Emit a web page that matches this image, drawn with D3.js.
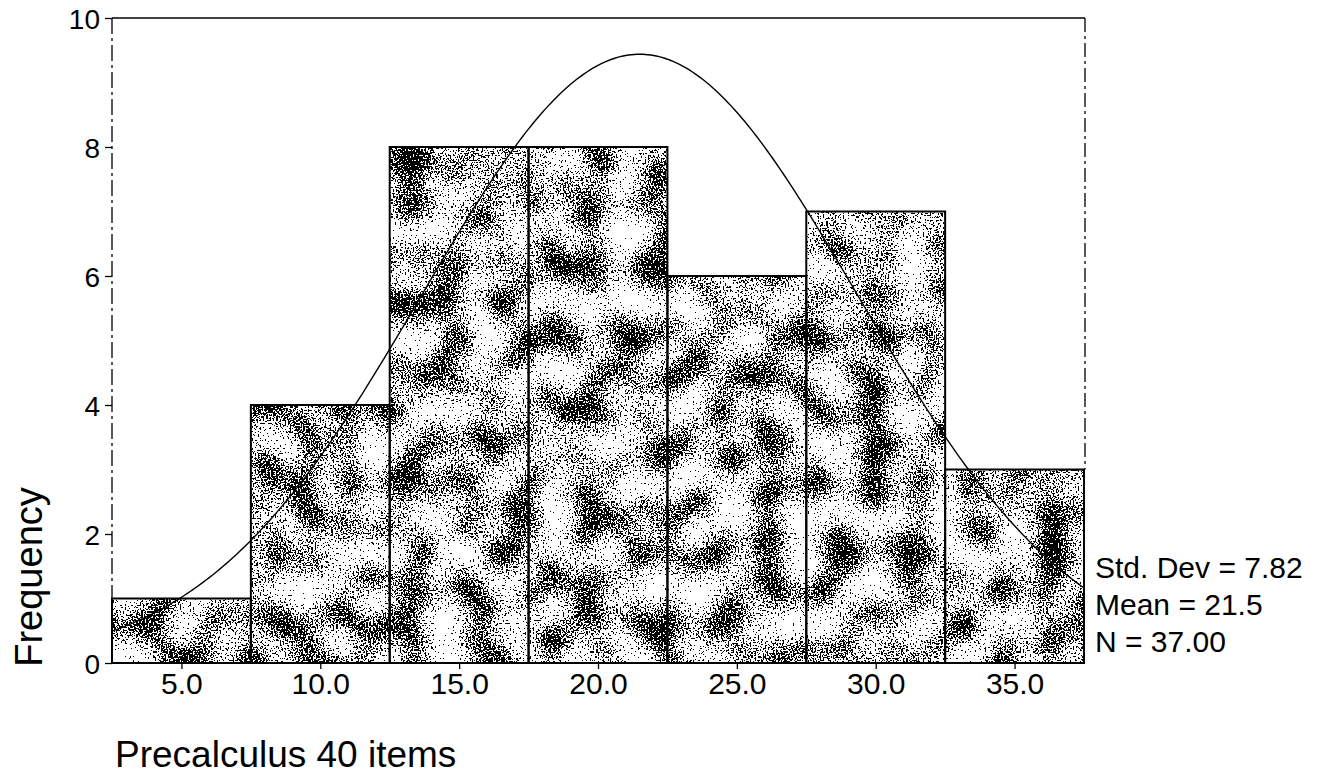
<!DOCTYPE html>
<html>
<head>
<meta charset="utf-8">
<script src="https://cdn.jsdelivr.net/npm/d3@7"></script>
<style>
  html, body { margin: 0; padding: 0; background: #fff; }
  svg { display: block; }
  text { font-family: "Liberation Sans", Arial, Helvetica, sans-serif; fill: #000; }
</style>
</head>
<body>
<svg id="chart" width="1321" height="780"></svg>
<script>
// Histogram bins (lower edges) and case counts
const binStarts = [2.5, 7.5, 12.5, 17.5, 22.5, 27.5, 32.5];
const binWidth = 5;
const counts = [1, 4, 8, 8, 6, 7, 3];

// Summary statistics shown at the right
const stdDev = 7.82;
const mean = 21.5;
const nCases = 37;

// Axis ticks
const xTicks = [5, 10, 15, 20, 25, 30, 35];
const yTicks = [0, 2, 4, 6, 8, 10];
const xDomain = [2.5, 37.5];
const yDomain = [0, 10];

const xTitle = "Precalculus 40 items";
const yTitle = "Frequency";

const svg = d3.select("#chart");
const plot = { left: 112, right: 1084, top: 18, bottom: 663 };

const x = d3.scaleLinear().domain(xDomain).range([plot.left, plot.right]);
const y = d3.scaleLinear().domain(yDomain).range([plot.bottom, plot.top]);

// Stippled grey fill: fine grain whose density follows coarse blotches
const defs = svg.append("defs");
const f = defs.append("filter")
  .attr("id", "stipple")
  .attr("filterUnits", "userSpaceOnUse")
  .attr("x", plot.left - 5).attr("y", plot.top)
  .attr("width", plot.right - plot.left + 10).attr("height", plot.bottom - plot.top + 5)
  .attr("color-interpolation-filters", "sRGB");
f.append("feTurbulence").attr("type", "fractalNoise").attr("baseFrequency", 0.6)
  .attr("numOctaves", 1).attr("seed", 4).attr("result", "fine");
f.append("feTurbulence").attr("type", "fractalNoise").attr("baseFrequency", 0.028)
  .attr("numOctaves", 1).attr("seed", 11).attr("result", "coarse");
f.append("feColorMatrix").attr("in", "fine").attr("type", "matrix")
  .attr("values", "0 0 0 0 0  0 0 0 0 0  0 0 0 0 0  1 0 0 0 0").attr("result", "fineA");
f.append("feColorMatrix").attr("in", "coarse").attr("type", "matrix")
  .attr("values", "0 0 0 0 0  0 0 0 0 0  0 0 0 0 0  1 0 0 0 0").attr("result", "coarseA");
f.append("feComposite").attr("in", "fineA").attr("in2", "coarseA")
  .attr("operator", "arithmetic").attr("k1", 0).attr("k2", 1).attr("k3", 0.65).attr("k4", -0.285)
  .attr("result", "sum");
const ct = f.append("feComponentTransfer").attr("in", "sum").attr("result", "dots");
ct.append("feFuncA").attr("type", "discrete").attr("tableValues", "0 0 0 0 0 0 1 1 1 1");
f.append("feComposite").attr("in", "dots").attr("in2", "SourceAlpha").attr("operator", "in");

const bins = binStarts.map((s, i) => ({ x0: s, x1: s + binWidth, n: counts[i] }));

// White base for the bars
svg.append("g").selectAll("rect").data(bins).join("rect")
  .attr("x", d => x(d.x0)).attr("y", d => y(d.n))
  .attr("width", d => x(d.x1) - x(d.x0)).attr("height", d => y(0) - y(d.n))
  .attr("fill", "#fff");

// Texture layer
svg.append("g").attr("filter", "url(#stipple)")
  .selectAll("rect").data(bins).join("rect")
  .attr("x", d => x(d.x0)).attr("y", d => y(d.n))
  .attr("width", d => x(d.x1) - x(d.x0)).attr("height", d => y(0) - y(d.n))
  .attr("fill", "#000");

// Bar outlines
svg.append("g").selectAll("rect").data(bins).join("rect")
  .attr("x", d => x(d.x0)).attr("y", d => y(d.n))
  .attr("width", d => x(d.x1) - x(d.x0)).attr("height", d => y(0) - y(d.n))
  .attr("fill", "none").attr("stroke", "#000").attr("stroke-width", 2);

// Frame: top and right sides, left axis line and baseline
const frame = svg.append("g").attr("stroke", "#000").attr("fill", "none");
frame.append("line").attr("x1", plot.left).attr("x2", plot.right + 1)
  .attr("y1", plot.top).attr("y2", plot.top).attr("stroke-width", 1.5);
frame.append("line").attr("x1", plot.right + 1).attr("x2", plot.right + 1)
  .attr("y1", plot.top).attr("y2", y(counts[counts.length - 1])).attr("stroke-width", 1.3)
  .attr("stroke-dasharray", "14 4 3 4");
frame.append("line").attr("x1", plot.left).attr("x2", plot.left)
  .attr("y1", plot.top).attr("y2", plot.bottom).attr("stroke-width", 1.3)
  .attr("stroke-dasharray", "16 4 3 4");
frame.append("line").attr("x1", plot.left - 1).attr("x2", plot.right + 1)
  .attr("y1", plot.bottom).attr("y2", plot.bottom).attr("stroke-width", 2);

// Fitted normal curve scaled to counts
const peakScale = nCases * binWidth / (stdDev * Math.sqrt(2 * Math.PI));
const curvePts = d3.range(xDomain[0], xDomain[1] + 0.001, 0.1).map(v => {
  const z = (v - mean) / stdDev;
  return [v, peakScale * Math.exp(-0.5 * z * z)];
});
svg.append("path").datum(curvePts)
  .attr("d", d3.line().x(d => x(d[0])).y(d => y(d[1])))
  .attr("fill", "none").attr("stroke", "#000").attr("stroke-width", 1.4);

// Axes
const yAxis = svg.append("g").attr("transform", `translate(${plot.left},0)`)
  .call(d3.axisLeft(y).tickValues(yTicks).tickSize(7).tickPadding(5).tickFormat(d3.format("d")));
yAxis.select(".domain").remove();
yAxis.selectAll("text").style("font-size", "28px").attr("dy", "0.36em");
yAxis.selectAll("line").attr("stroke-width", 1.3);

const xAxis = svg.append("g").attr("transform", `translate(0,${plot.bottom})`)
  .call(d3.axisBottom(x).tickValues(xTicks).tickSize(6).tickPadding(4).tickFormat(d3.format(".1f")));
xAxis.select(".domain").remove();
xAxis.selectAll("text").style("font-size", "30px");
xAxis.selectAll("line").attr("stroke-width", 1.3);

// Titles
svg.append("text").attr("x", 115).attr("y", 767)
  .style("font-size", "37px").text(xTitle);
svg.append("text")
  .attr("transform", `translate(42,577) rotate(-90)`)
  .attr("text-anchor", "middle").style("font-size", "38px").text(yTitle);

// Statistics block
const statLines = [
  `Std. Dev = ${d3.format(".2f")(stdDev)}`,
  `Mean = ${d3.format(".1f")(mean)}`,
  `N = ${d3.format(".2f")(nCases)}`
];
svg.append("g").selectAll("text").data(statLines).join("text")
  .attr("x", 1095).attr("y", (d, i) => 578 + i * 37)
  .style("font-size", "30px").text(d => d);
</script>
</body>
</html>
